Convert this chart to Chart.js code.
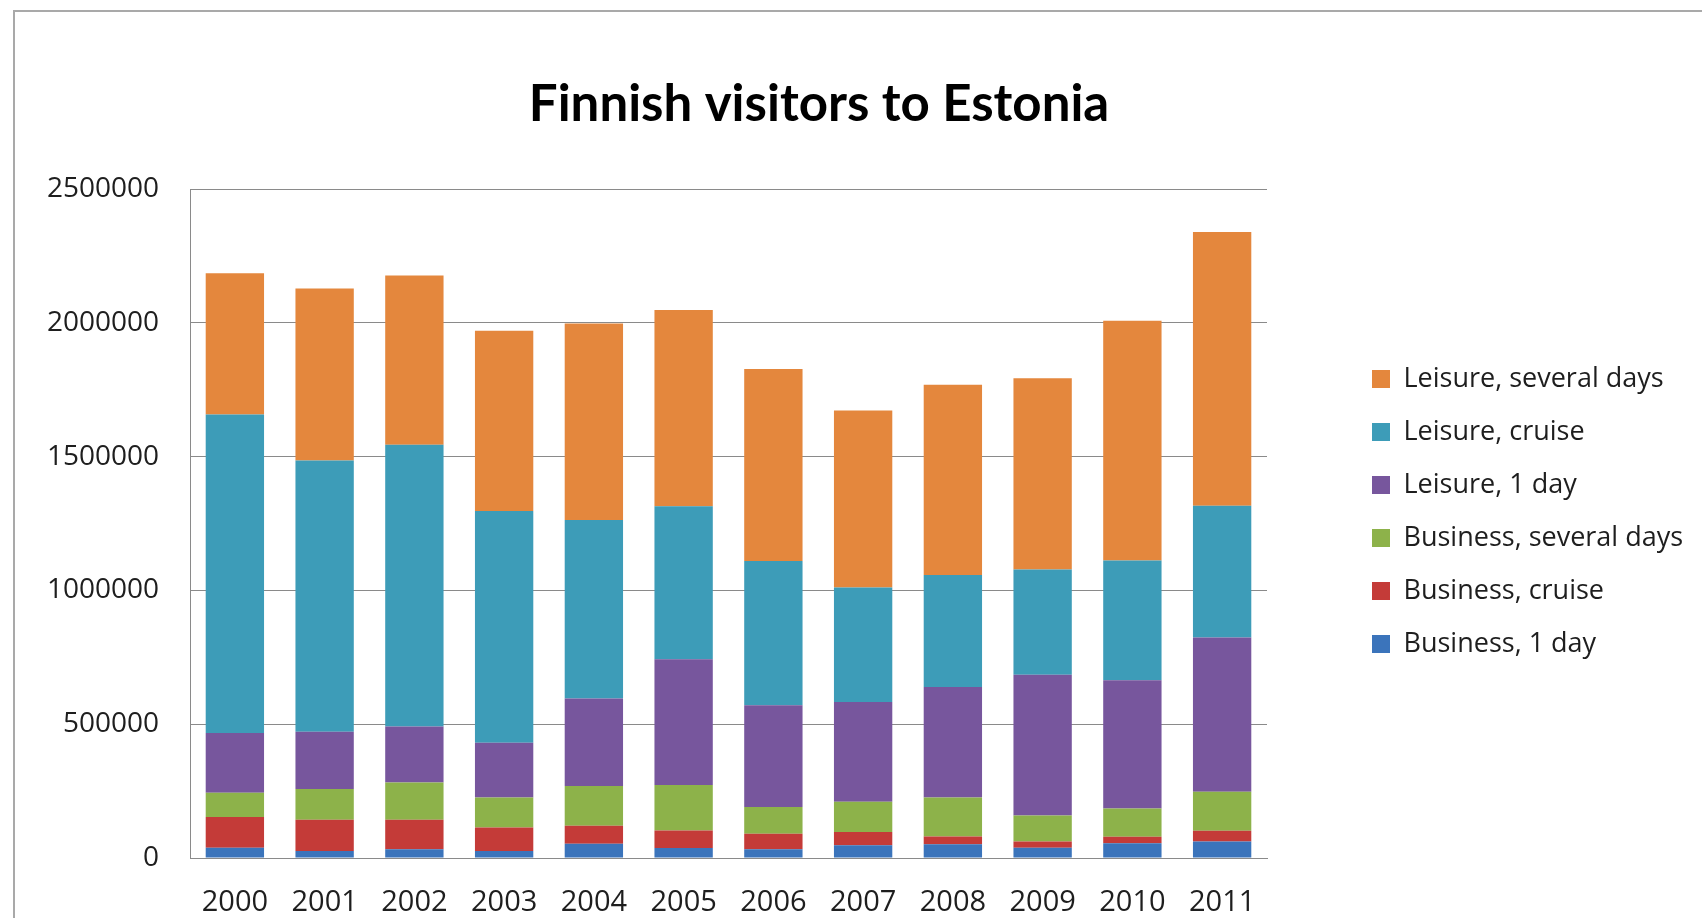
<!DOCTYPE html>
<html>
<head>
<meta charset="utf-8">
<title>Finnish visitors to Estonia</title>
<script src="https://cdn.jsdelivr.net/npm/chart.js@4.4.1/dist/chart.umd.min.js"></script>
<style>
  html, body { margin: 0; background: #fff; overflow: hidden; }
  body { width: 1702px; height: 918px; position: relative; }
  /* the Excel chart frame: only its top and left edges are inside the picture */
  .frame { position: absolute; left: 13px; top: 10px; right: -20px; bottom: -20px;
           border-left: 2px solid #a9a9a9; border-top: 2px solid #a9a9a9; }
  #chart { position: absolute; top: 0; }
</style>
</head>
<body>
<div class="frame"></div>
<canvas id="chart" height="918"></canvas>
<script>
// Values, stacked bottom to top.
const years = ["2000", "2001", "2002", "2003", "2004", "2005", "2006", "2007", "2008", "2009", "2010", "2011"];
const business1Day     = [38000, 26000, 33000, 26000, 53000, 37000, 33000, 48000, 51000, 38000, 55000, 62000];
const businessCruise   = [115000, 117000, 110000, 88000, 68000, 66000, 58000, 49000, 29000, 24000, 24000, 40000];
const businessSeveral  = [91000, 115000, 139000, 112000, 148000, 170000, 100000, 113000, 146000, 97000, 106000, 146000];
const leisure1Day      = [223000, 214000, 210000, 205000, 327000, 470000, 380000, 373000, 413000, 526000, 479000, 576000];
const leisureCruise    = [1191000, 1014000, 1053000, 866000, 667000, 572000, 539000, 428000, 419000, 393000, 448000, 493000];
const leisureSeveral   = [528000, 643000, 632000, 674000, 735000, 733000, 718000, 662000, 711000, 715000, 896000, 1023000];
const seriesNames = ["Business, 1 day", "Business, cruise", "Business, several days",
                     "Leisure, 1 day", "Leisure, cruise", "Leisure, several days"];
const yTicks = { min: 0, max: 2500000, step: 500000 };

const FONT = '"Open Sans", sans-serif';
const TEXT = "#1e1e1e";
const AXIS = "#8a8a8a";
const LEGEND_SIZE = 27, LEGEND_PAD = 26, BOX = 18;

// Where things sit on the page (px).
const PLOT_LEFT = 190, PLOT_RIGHT = 1267, PLOT_BOTTOM = 858;
const LEGEND_BOX_X = 1372, TITLE_CX = 819;

// Legend width as Chart.js will fit it, so the gap and the title centre come out right.
const measure = document.createElement("canvas").getContext("2d");
measure.font = `${LEGEND_SIZE}px ${FONT}`;
const textW = Math.max(...seriesNames.map((n) => measure.measureText(n).width));
const legendW = LEGEND_PAD + BOX + LEGEND_SIZE / 2 + textW + 10;
const legendLeft = LEGEND_BOX_X - LEGEND_PAD;
const legendRight = legendLeft + legendW;
// The title is centred over the whole canvas, so slide the canvas left until its centre is TITLE_CX.
const off = Math.max(0, Math.round(legendRight - 2 * TITLE_CX));
const pageRight = Math.max(1702, Math.ceil(legendRight));
const padR = pageRight - legendRight;

const canvas = document.getElementById("chart");
canvas.width = pageRight + off;
canvas.style.left = `${-off}px`;

const ds = (i, data, color) => ({
  label: seriesNames[i],
  data,
  backgroundColor: color,
  borderWidth: 0,
  categoryPercentage: 1,
  barPercentage: 0.65,
});

// Excel hangs the legend a little above the plot's middle.
const legendNudge = {
  id: "legendNudge",
  afterLayout(chart) {
    const lg = chart.legend;
    if (!lg) return;
    lg.top -= 12;
    lg.bottom -= 12;
  },
};

new Chart(canvas, {
  type: "bar",
  data: {
    labels: years,
    datasets: [
      ds(0, business1Day, "#3b74bb"),
      ds(1, businessCruise, "#c43b38"),
      ds(2, businessSeveral, "#8db24a"),
      ds(3, leisure1Day, "#77569d"),
      ds(4, leisureCruise, "#3d9cb8"),
      ds(5, leisureSeveral, "#e4873d"),
    ],
  },
  options: {
    responsive: false,
    animation: false,
    devicePixelRatio: 1,
    layout: { padding: { left: 0, right: padR, top: 0, bottom: 0 } },
    scales: {
      x: {
        stacked: true,
        grid: { display: false },
        border: { color: AXIS, width: 1 },
        ticks: { color: TEXT, font: { family: FONT, size: 29 }, padding: 19, maxRotation: 0, autoSkip: false },
        afterFit: (s) => { s.height = 918 - PLOT_BOTTOM; },
      },
      y: {
        stacked: true,
        min: yTicks.min,
        max: yTicks.max,
        grid: { color: AXIS, lineWidth: 1, drawTicks: false },
        border: { color: AXIS, width: 1 },
        ticks: {
          stepSize: yTicks.step,
          padding: 31,
          color: TEXT,
          font: { family: FONT, size: 28 },
          callback: (v) => String(v),
        },
        afterFit: (s) => { s.width = PLOT_LEFT + off; },
      },
      // empty axis that only keeps the gap between the plot and the legend
      gap: {
        type: "linear",
        position: "right",
        grid: { display: false },
        border: { display: false },
        ticks: { display: false },
        afterFit: (s) => { s.width = legendLeft - PLOT_RIGHT; },
      },
    },
    plugins: {
      title: {
        display: true,
        text: "Finnish visitors to Estonia",
        color: "#000",
        font: { family: "Lato, sans-serif", size: 51, weight: "bold" },
        padding: { top: 74, bottom: 54 },
      },
      legend: {
        position: "right",
        fullSize: false,
        reverse: true,
        maxWidth: 800,
        labels: {
          boxWidth: BOX,
          boxHeight: BOX,
          padding: LEGEND_PAD,
          color: TEXT,
          font: { family: FONT, size: LEGEND_SIZE },
        },
      },
      tooltip: { enabled: false },
    },
  },
  plugins: [legendNudge],
});
</script>
</body>
</html>
